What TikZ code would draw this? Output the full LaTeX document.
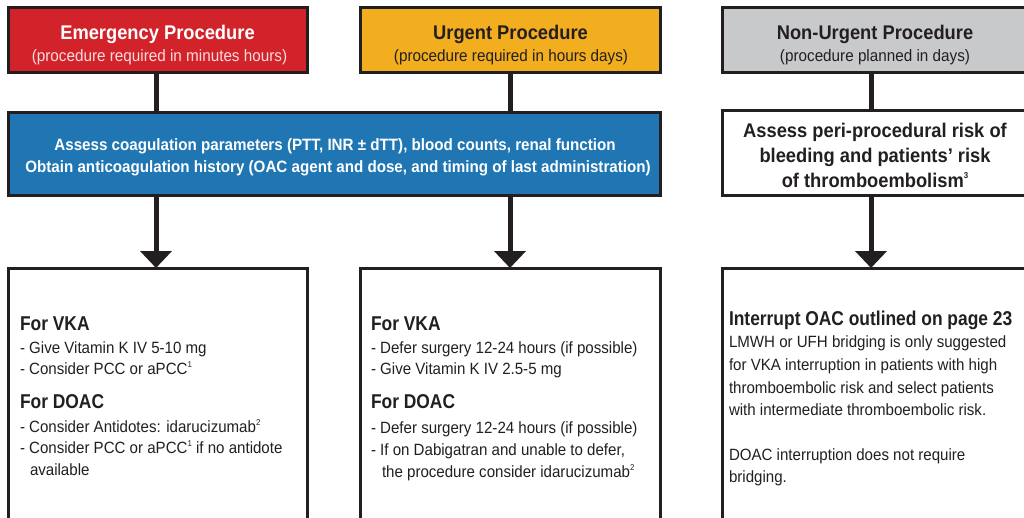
\documentclass[tikz,border=0pt]{standalone}
\usepackage{fontspec}
\setmainfont{Liberation Sans}[FakeStretch=0.925]
\newfontfamily\hdfont{Liberation Sans}[FakeStretch=0.87]
\usetikzlibrary{arrows.meta}
\definecolor{edge}{HTML}{231F20}
\definecolor{emred}{HTML}{D2232A}
\definecolor{urgorange}{HTML}{F2AE1E}
\definecolor{nugray}{HTML}{C8C9CB}
\definecolor{assblue}{HTML}{1F76B3}
\definecolor{subpink}{HTML}{F8DCDC}
\newcommand\supnum[1]{\raisebox{0.42em}{\fontsize{8.5}{9}\selectfont #1}}
\tikzset{
  box/.style={draw=edge, line width=3pt, inner sep=0pt, outer sep=0pt},
  conn/.style={draw=edge, line width=5pt},
  arr/.style={draw=edge, line width=5pt, -{Triangle[width=31pt,length=17pt]}},
  txt/.style={anchor=base west, inner sep=0pt, outer sep=0pt},
  ctxt/.style={anchor=base, inner sep=0pt, outer sep=0pt},
  ttl/.style={font=\fontsize{19.8}{22}\selectfont\bfseries},
  sub/.style={font=\fontsize{16.5}{18}\selectfont},
  bl/.style={font=\fontsize{16.4}{18}\selectfont\bfseries},
  hd/.style={font=\hdfont\fontsize{20}{22}\selectfont\bfseries},
  it/.style={font=\fontsize{16.3}{18}\selectfont},
}
\begin{document}
\begin{tikzpicture}[x=1pt,y=-1pt]
\useasboundingbox (0,0) rectangle (1024,517);
\clip (0,0) rectangle (1024,517);
% top boxes
\node[box, fill=emred, minimum width=299pt, minimum height=65pt] (em) at (157.5,39.5) {};
\node[box, fill=urgorange, minimum width=300pt, minimum height=65pt] (ur) at (510,39.5) {};
\node[box, fill=nugray, minimum width=310pt, minimum height=65pt] (nu) at (877,39.5) {};
% middle boxes
\node[box, fill=assblue, minimum width=652pt, minimum height=83pt] (blue) at (334,153.5) {};
\node[box, fill=white, minimum width=310pt, minimum height=85pt] (rm) at (877,152.5) {};
% bottom boxes
\node[box, fill=white, minimum width=299pt, minimum height=300pt] (lb) at (157.5,418) {};
\node[box, fill=white, minimum width=300pt, minimum height=300pt] (mb) at (510,418) {};
\node[box, fill=white, minimum width=310pt, minimum height=300pt] (rb) at (877,418) {};
% connector columns
\coordinate (c1) at (156,0);
\coordinate (c2) at (510,0);
\coordinate (c3) at (871,0);
\draw[conn] (em.south -| c1) -- (blue.north -| c1);
\draw[conn] (ur.south -| c2) -- (blue.north -| c2);
\draw[conn] (nu.south -| c3) -- (rm.north -| c3);
\draw[arr] (blue.south -| c1) -- (lb.north -| c1);
\draw[arr] (blue.south -| c2) -- (mb.north -| c2);
\draw[arr] (rm.south -| c3) -- (rb.north -| c3);
% top texts
\node[ctxt, ttl, text=white] (emt) at (157.5,39) {Emergency Procedure};
\node[ctxt, sub, text=subpink] (ems) at (159.5,61) {(procedure required in minutes hours)};
\node[ctxt, ttl, text=edge] (urt) at (510.5,39) {Urgent Procedure};
\node[ctxt, sub, text=edge] (urs) at (511,61) {(procedure required in hours days)};
\node[ctxt, ttl, text=edge] (nut) at (875,39) {Non-Urgent Procedure};
\node[ctxt, sub, text=edge] (nus) at (875,61) {(procedure planned in days)};
% blue texts
\node[ctxt, bl, text=white] (b1) at (335,150) {Assess coagulation parameters (PTT, INR ± dTT), blood counts, renal function};
\node[ctxt, bl, text=white] (b2) at (338,172) {Obtain anticoagulation history (OAC agent and dose, and timing of last administration)};
% right middle texts
\node[ctxt, ttl, text=edge] (r1) at (875,137) {Assess peri-procedural risk of};
\node[ctxt, ttl, text=edge] (r2) at (875,162) {bleeding and patients’ risk};
\node[ctxt, ttl, text=edge] (r3) at (875,187) {of thromboembolism\supnum{3}};
% left bottom texts
\node[txt, hd, text=edge] (l1) at (20,330) {For VKA};
\node[txt, it, text=edge] (l2) at (20,353) {- Give Vitamin K IV 5-10 mg};
\node[txt, it, text=edge] (l3) at (20,374) {- Consider PCC or aPCC\supnum{1}};
\node[txt, hd, text=edge] (l4) at (20,408) {For DOAC};
\node[txt, it, text=edge] (l5) at (20,432) {- Consider Antidotes: idarucizumab\supnum{2}};
\node[txt, it, text=edge] (l6) at (20,453) {- Consider PCC or aPCC\supnum{1} if no antidote};
\node[txt, it, text=edge] (l7) at (30,475) {available};
% middle bottom texts
\node[txt, hd, text=edge] (m1) at (371,330) {For VKA};
\node[txt, it, text=edge] (m2) at (371,353) {- Defer surgery 12-24 hours (if possible)};
\node[txt, it, text=edge] (m3) at (371,374) {- Give Vitamin K IV 2.5-5 mg};
\node[txt, hd, text=edge] (m4) at (371,408) {For DOAC};
\node[txt, it, text=edge] (m5) at (371,433) {- Defer surgery 12-24 hours (if possible)};
\node[txt, it, text=edge] (m6) at (371,455) {- If on Dabigatran and unable to defer,};
\node[txt, it, text=edge] (m7) at (382,477) {the procedure consider idarucizumab\supnum{2}};
% right bottom texts
\node[txt, hd, text=edge] (q1) at (729,325) {Interrupt OAC outlined on page 23};
\node[txt, it, text=edge] (q2) at (729,347) {LMWH or UFH bridging is only suggested};
\node[txt, it, text=edge] (q3) at (729,370) {for VKA interruption in patients with high};
\node[txt, it, text=edge] (q4) at (729,393) {thromboembolic risk and select patients};
\node[txt, it, text=edge] (q5) at (729,415) {with intermediate thromboembolic risk.};
\node[txt, it, text=edge] (q6) at (729,460) {DOAC interruption does not require};
\node[txt, it, text=edge] (q7) at (729,482) {bridging.};
\end{tikzpicture}
\end{document}
